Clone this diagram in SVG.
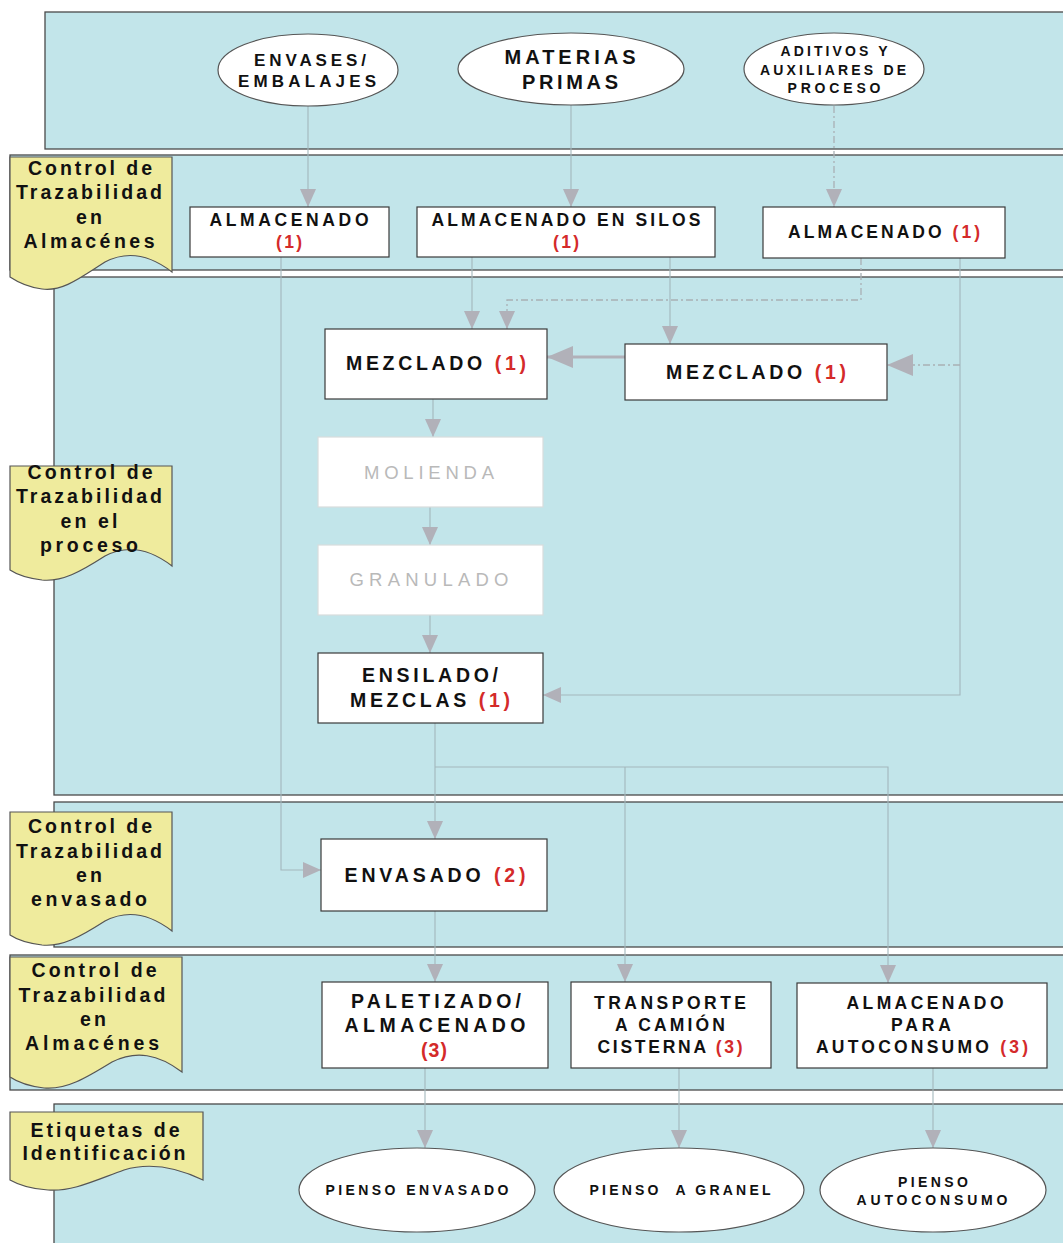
<svg xmlns="http://www.w3.org/2000/svg" width="1063" height="1243" viewBox="0 0 1063 1243">
<style>
.band{fill:#c2e5ea;stroke:#4a4a4a;stroke-width:1.3}
.lbl{fill:#efeb9d;stroke:#555;stroke-width:1.2}
.lt{font-family:"Liberation Sans",Arial,sans-serif;font-weight:bold;font-size:19.5px;fill:#111;text-anchor:middle}
.box{fill:#fff;stroke:#3a3a3a;stroke-width:1.2}
.fbox{fill:#fff;stroke:#d8dcdc;stroke-width:1.2}
.ell{fill:#fff;stroke:#555;stroke-width:1.2}
.t{font-family:"Liberation Sans",Arial,sans-serif;font-weight:bold;font-size:17.5px;fill:#111;text-anchor:middle}
.tb{font-size:19.5px}
.te{font-size:17px}
.tm{font-size:20px}
.ts{font-family:"Liberation Sans",Arial,sans-serif;font-weight:bold;font-size:14px;fill:#111;text-anchor:middle}
.tf{font-family:"Liberation Sans",Arial,sans-serif;font-size:18.5px;fill:#b9b9b9;text-anchor:middle}
.r{fill:#d42a2a}
.c{fill:none;stroke:#a3b7bc;stroke-width:1.1}
.cd{fill:none;stroke:#a9b0b4;stroke-width:1.3;stroke-dasharray:7 3 2 3}
</style>
<defs>
<marker id="ah" viewBox="0 0 18 16" refX="18" refY="8" markerWidth="18" markerHeight="16" orient="auto" markerUnits="userSpaceOnUse"><path d="M0,0 L18,8 L0,16 z" fill="#b1b1b9"/></marker>
<marker id="ahb" viewBox="0 0 26 22" refX="26" refY="11" markerWidth="26" markerHeight="22" orient="auto" markerUnits="userSpaceOnUse"><path d="M0,0 L26,11 L0,22 z" fill="#b1b1b9"/></marker>
</defs>
<rect width="1063" height="1243" fill="#fff"/>

<g id="bands">
<rect class="band" x="45" y="12" width="1030" height="137"/>
<rect class="band" x="10" y="155" width="1065" height="115"/>
<rect class="band" x="54" y="277" width="1021" height="518"/>
<rect class="band" x="54" y="802" width="1021" height="145"/>
<rect class="band" x="10" y="955" width="1065" height="135"/>
<rect class="band" x="54" y="1104" width="1021" height="150"/>
</g>

<g id="label-almacenes-1">
<path class="lbl" d="M10,157 H172 V272 C150,255 128,250 105,262 C80,278 62,292 42,289 C26,287 16,281 10,277 Z"/>
<text class="lt" x="90" y="175" textLength="124" lengthAdjust="spacing">Control de</text>
<text class="lt" x="89" y="199" textLength="146" lengthAdjust="spacing">Trazabilidad</text>
<text class="lt" x="89" y="224" textLength="26" lengthAdjust="spacing">en</text>
<text class="lt" x="89" y="248" textLength="131" lengthAdjust="spacing">Almacénes</text>
</g>
<g id="label-proceso">
<path class="lbl" d="M10,466 H172 V566 C150,549 128,544 105,556 C80,572 62,582 42,580 C26,578 16,574 10,570 Z"/>
<text class="lt" x="90" y="479" textLength="125" lengthAdjust="spacing">Control de</text>
<text class="lt" x="89" y="503" textLength="146" lengthAdjust="spacing">Trazabilidad</text>
<text class="lt" x="89" y="528" textLength="57" lengthAdjust="spacing">en el</text>
<text class="lt" x="89" y="552" textLength="98" lengthAdjust="spacing">proceso</text>
</g>
<g id="label-envasado">
<path class="lbl" d="M10,812 H172 V931 C150,914 128,909 105,921 C80,937 62,947 42,945 C26,943 16,939 10,935 Z"/>
<text class="lt" x="90" y="833" textLength="124" lengthAdjust="spacing">Control de</text>
<text class="lt" x="89" y="858" textLength="146" lengthAdjust="spacing">Trazabilidad</text>
<text class="lt" x="89" y="882" textLength="26" lengthAdjust="spacing">en</text>
<text class="lt" x="89" y="906" textLength="116" lengthAdjust="spacing">envasado</text>
</g>
<g id="label-almacenes-2">
<path class="lbl" d="M10,957 H182 V1072 C158,1054 136,1050 112,1062 C86,1078 66,1090 44,1088 C27,1086 16,1081 10,1077 Z"/>
<text class="lt" x="94" y="977" textLength="125" lengthAdjust="spacing">Control de</text>
<text class="lt" x="92" y="1002" textLength="147" lengthAdjust="spacing">Trazabilidad</text>
<text class="lt" x="93" y="1026" textLength="26" lengthAdjust="spacing">en</text>
<text class="lt" x="92" y="1050" textLength="134" lengthAdjust="spacing">Almacénes</text>
</g>
<g id="label-etiquetas">
<path class="lbl" d="M10,1112 H203 V1180 C178,1168 150,1162 124,1170 C96,1180 72,1192 48,1190 C30,1189 17,1184 10,1180 Z"/>
<text class="lt" x="105" y="1137" textLength="149" lengthAdjust="spacing">Etiquetas de</text>
<text class="lt" x="104" y="1160" textLength="163" lengthAdjust="spacing">Identificación</text>
</g>

<g id="connectors">
<path class="c" d="M308,106 V207" marker-end="url(#ah)"/>
<path class="c" d="M571,105 V207" marker-end="url(#ah)"/>
<path class="cd" d="M834,106 V207" marker-end="url(#ah)"/>
<path class="c" d="M281,257 V870 H321" marker-end="url(#ah)"/>
<path class="c" d="M472,257 V329" marker-end="url(#ah)"/>
<path class="c" d="M670,257 V344" marker-end="url(#ah)"/>
<path class="cd" d="M861,258 V300 H507 V329" marker-end="url(#ah)"/>
<path class="c" d="M960,258 V695 H543" marker-end="url(#ah)"/>
<path class="cd" d="M960,365 H887" marker-end="url(#ahb)"/>
<path class="c" style="stroke:#b1b1b9;stroke-width:3" d="M625,357 H547" marker-end="url(#ahb)"/>
<path class="c" d="M433,399 V437" marker-end="url(#ah)"/>
<path class="c" d="M430,507 V545" marker-end="url(#ah)"/>
<path class="c" d="M430,615 V653" marker-end="url(#ah)"/>
<path class="c" d="M435,723 V839" marker-end="url(#ah)"/>
<path class="c" d="M435,767 H888 V983" marker-end="url(#ah)"/>
<path class="c" d="M625,767 V982" marker-end="url(#ah)"/>
<path class="c" d="M435,911 V982" marker-end="url(#ah)"/>
<path class="c" d="M425,1068 V1148" marker-end="url(#ah)"/>
<path class="c" d="M679,1068 V1148" marker-end="url(#ah)"/>
<path class="c" d="M933,1068 V1148" marker-end="url(#ah)"/>
</g>

<g id="envases">
<ellipse class="ell" cx="308" cy="70" rx="90" ry="36"/>
<text class="t te" x="310" y="66" textLength="112" lengthAdjust="spacing">ENVASES/</text>
<text class="t te" x="307" y="87" textLength="138" lengthAdjust="spacing">EMBALAJES</text>
</g>
<g id="materias">
<ellipse class="ell" cx="571" cy="69" rx="113" ry="36"/>
<text class="t tm" x="570" y="64" textLength="131" lengthAdjust="spacing">MATERIAS</text>
<text class="t tm" x="570" y="89" textLength="96" lengthAdjust="spacing">PRIMAS</text>
</g>
<g id="aditivos">
<ellipse class="ell" cx="834" cy="69" rx="90" ry="36"/>
<text class="ts" x="834" y="56" textLength="107" lengthAdjust="spacing">ADITIVOS Y</text>
<text class="ts" x="833" y="75" textLength="146" lengthAdjust="spacing">AUXILIARES DE</text>
<text class="ts" x="834" y="93" textLength="93" lengthAdjust="spacing">PROCESO</text>
</g>

<g id="almacenado-envases">
<rect class="box" x="190" y="207" width="199" height="50"/>
<text class="t" x="289" y="226" textLength="159" lengthAdjust="spacing">ALMACENADO</text>
<text class="t r" x="289" y="248" textLength="26" lengthAdjust="spacing">(1)</text>
</g>
<g id="almacenado-silos">
<rect class="box" x="417" y="207" width="298" height="50"/>
<text class="t" x="566" y="226" textLength="269" lengthAdjust="spacing">ALMACENADO EN SILOS</text>
<text class="t r" x="566" y="248" textLength="26" lengthAdjust="spacing">(1)</text>
</g>
<g id="almacenado-aditivos">
<rect class="box" x="763" y="207" width="242" height="51"/>
<text class="t" x="884" y="238" textLength="192" lengthAdjust="spacing">ALMACENADO <tspan class="r">(1)</tspan></text>
</g>

<g id="mezclado-1">
<rect class="box" x="325" y="329" width="222" height="70"/>
<text class="t tb" x="436" y="370" textLength="180" lengthAdjust="spacing">MEZCLADO <tspan class="r">(1)</tspan></text>
</g>
<g id="mezclado-2">
<rect class="box" x="625" y="344" width="262" height="56"/>
<text class="t tb" x="756" y="379" textLength="180" lengthAdjust="spacing">MEZCLADO <tspan class="r">(1)</tspan></text>
</g>
<g id="molienda">
<rect class="fbox" x="318" y="437" width="225" height="70"/>
<text class="tf" x="429" y="479" textLength="130" lengthAdjust="spacing">MOLIENDA</text>
</g>
<g id="granulado">
<rect class="fbox" x="318" y="545" width="225" height="70"/>
<text class="tf" x="429" y="586" textLength="159" lengthAdjust="spacing">GRANULADO</text>
</g>
<g id="ensilado">
<rect class="box" x="318" y="653" width="225" height="70"/>
<text class="t tb" x="430" y="682" textLength="136" lengthAdjust="spacing">ENSILADO/</text>
<text class="t tb" x="430" y="707" textLength="160" lengthAdjust="spacing">MEZCLAS <tspan class="r">(1)</tspan></text>
</g>

<g id="envasado">
<rect class="box" x="321" y="839" width="226" height="72"/>
<text class="t tb" x="435" y="882" textLength="181" lengthAdjust="spacing">ENVASADO <tspan class="r">(2)</tspan></text>
</g>

<g id="paletizado">
<rect class="box" x="322" y="982" width="226" height="86"/>
<text class="t tb" x="436" y="1008" textLength="170" lengthAdjust="spacing">PALETIZADO/</text>
<text class="t tb" x="435" y="1032" textLength="181" lengthAdjust="spacing">ALMACENADO</text>
<text class="t tb r" x="434" y="1057" textLength="26" lengthAdjust="spacing">(3)</text>
</g>
<g id="transporte">
<rect class="box" x="571" y="982" width="200" height="86"/>
<text class="t" x="670" y="1009" textLength="152" lengthAdjust="spacing">TRANSPORTE</text>
<text class="t" x="670" y="1031" textLength="110" lengthAdjust="spacing">A CAMIÓN</text>
<text class="t" x="670" y="1053" textLength="145" lengthAdjust="spacing">CISTERNA <tspan class="r">(3)</tspan></text>
</g>
<g id="autoconsumo">
<rect class="box" x="797" y="983" width="250" height="85"/>
<text class="t" x="925" y="1009" textLength="157" lengthAdjust="spacing">ALMACENADO</text>
<text class="t" x="921" y="1031" textLength="60" lengthAdjust="spacing">PARA</text>
<text class="t" x="922" y="1053" textLength="212" lengthAdjust="spacing">AUTOCONSUMO <tspan class="r">(3)</tspan></text>
</g>

<g id="pienso-envasado">
<ellipse class="ell" cx="417" cy="1190" rx="118" ry="42"/>
<text class="ts" x="417" y="1195" textLength="183" lengthAdjust="spacing">PIENSO ENVASADO</text>
</g>
<g id="pienso-granel">
<ellipse class="ell" cx="679" cy="1190" rx="125" ry="42"/>
<text class="ts" x="680" y="1195" textLength="181" lengthAdjust="spacing" xml:space="preserve">PIENSO  A GRANEL</text>
</g>
<g id="pienso-autoconsumo">
<ellipse class="ell" cx="933" cy="1190" rx="113" ry="42"/>
<text class="ts" x="933" y="1187" textLength="70" lengthAdjust="spacing">PIENSO</text>
<text class="ts" x="932" y="1205" textLength="151" lengthAdjust="spacing">AUTOCONSUMO</text>
</g>
</svg>
